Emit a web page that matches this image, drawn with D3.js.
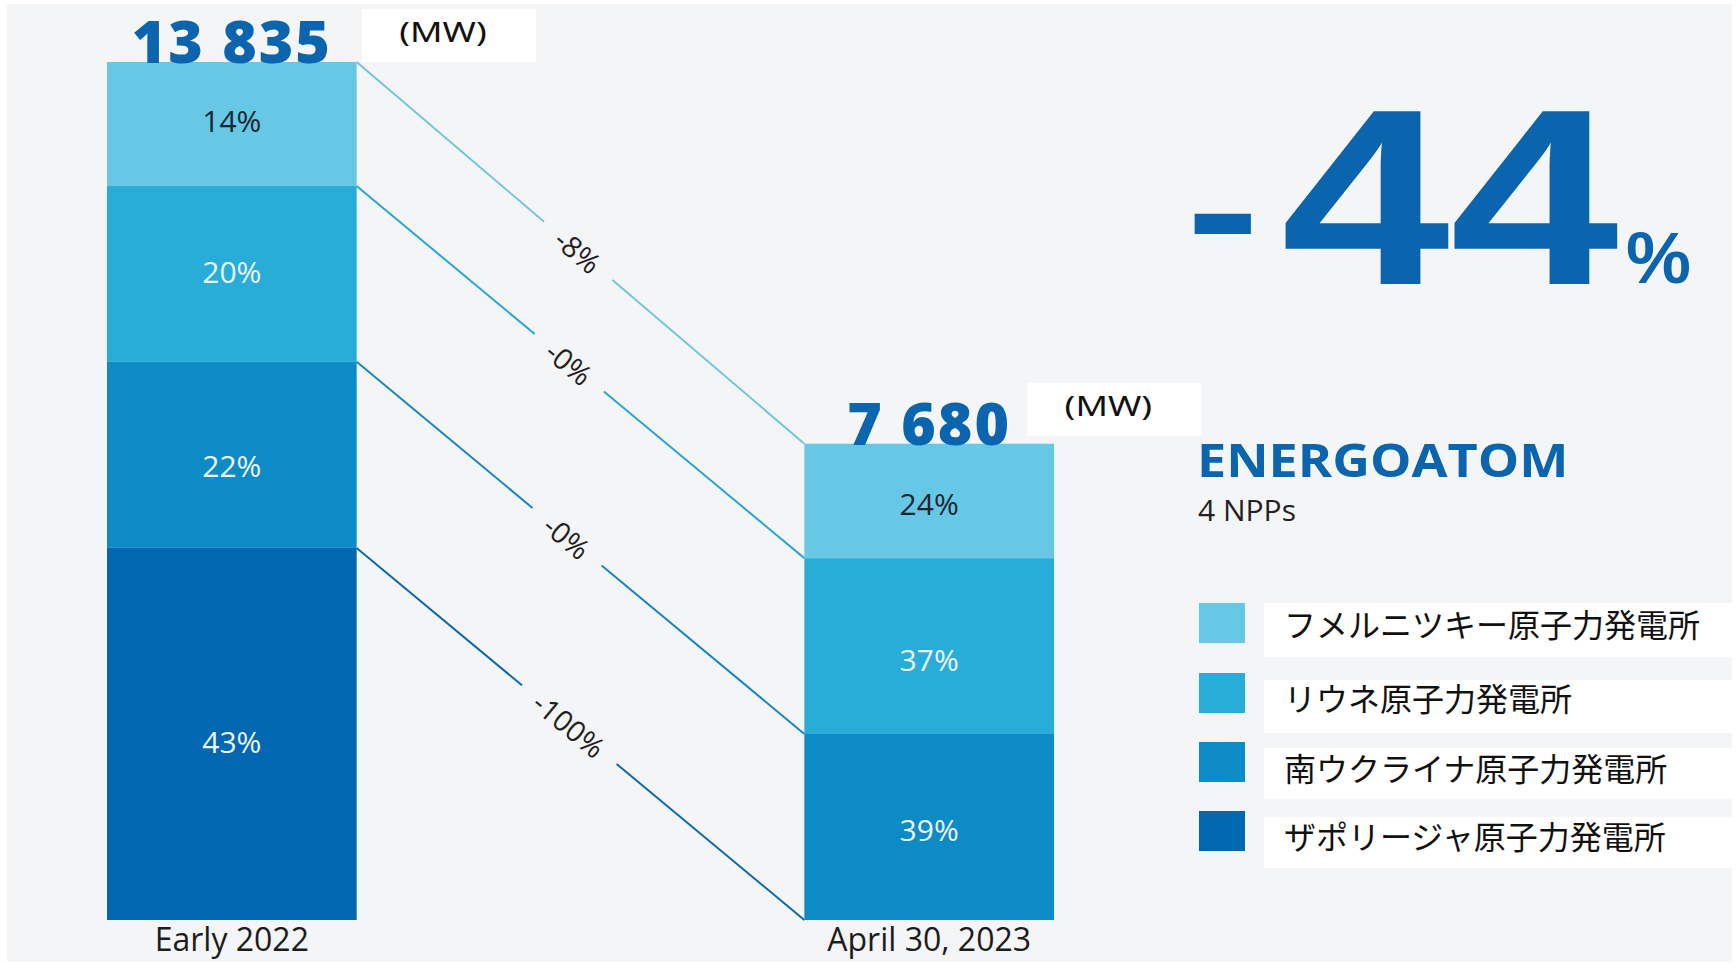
<!DOCTYPE html>
<html>
<head>
<meta charset="utf-8">
<script src="https://cdn.jsdelivr.net/npm/d3@7"></script>
<style>
  html, body { margin: 0; padding: 0; background: #ffffff; }
  svg { display: block; }
</style>
</head>
<body>
<svg id="chart" width="1736" height="964"></svg>
<script>
// Installed capacity of Energoatom's four nuclear power plants, MW
const periods = ["Early 2022", "April 30, 2023"];
const plants = [
  "フメルニツキー原子力発電所",
  "リウネ原子力発電所",
  "南ウクライナ原子力発電所",
  "ザポリージャ原子力発電所"
];
const capacityEarly2022 = [2000, 2835, 3000, 6000];
const capacityApril2023 = [1845, 2835, 3000, 0];
const unitLabel = "(MW)";
const companyName = "ENERGOATOM";
const companySub = "4 NPPs";

const colors = ["#66c8e4", "#27add8", "#0d8bc6", "#0067b0"];
const lineColors = ["#73c5de", "#2aa6d0", "#1887c0", "#0f69a8"];
const labelColors = ["#1b2633", "#eef6fb", "#eef6fb", "#eef6fb"];
const blue = "#0a64ae";

const W = 1736, H = 964;
const svg = d3.select("#chart");

// panel background
svg.append("rect")
  .attr("x", 7).attr("y", 4)
  .attr("width", 1725).attr("height", 958)
  .attr("fill", "#f4f5f7");

const rows = periods.map((p, i) => {
  const src = i === 0 ? capacityEarly2022 : capacityApril2023;
  const r = { period: p, index: i };
  plants.forEach((k, j) => r[k] = src[j]);
  r.total = d3.sum(src);
  return r;
});

// stack bottom-up: last plant sits on the baseline
const stack = d3.stack().keys(plants.slice().reverse());
const series = stack(rows);
const byPlant = {};
series.forEach(s => byPlant[s.key] = s);

const x = d3.scaleBand()
  .domain(periods)
  .range([107, 1054])
  .paddingInner(0.642)
  .paddingOuter(0);

const y = d3.scaleLinear()
  .domain([0, d3.max(rows, d => d.total)])
  .range([920, 62]);

const fmtMW = d3.formatLocale({ decimal: ".", thousands: " ", grouping: [3], currency: ["", ""] }).format(",d");
const sans = "'Open Sans', 'Noto Sans', sans-serif";

// connector lines between matching segment tops, with the change written along each
const connectorT = [0.495, 0.475, 0.47, 0.475];
const connG = svg.append("g");
plants.forEach((k, i) => {
  const s = byPlant[k];
  const x1 = x(periods[0]) + x.bandwidth();
  const y1 = y(s[0][1]);
  const x2 = x(periods[1]);
  const y2 = y(s[1][1]);
  const before = s[0][1] - s[0][0];
  const after = s[1][1] - s[1][0];
  const change = Math.round((after - before) / before * 100);
  const txt = "-" + Math.abs(change) + "%";

  const t = connectorT[i];
  const cx = x1 + (x2 - x1) * t;
  const cy = y1 + (y2 - y1) * t;
  const ang = Math.atan2(y2 - y1, x2 - x1);

  const label = connG.append("text")
    .attr("transform", `translate(${cx},${cy}) rotate(${ang * 180 / Math.PI})`)
    .attr("text-anchor", "middle")
    .attr("dominant-baseline", "central")
    .attr("font-family", sans)
    .attr("font-size", 29)
    .attr("fill", "#1f1f1f")
    .text(txt);
  const tl = label.node().getComputedTextLength();
  const half = tl / 2 + 20;
  const ux = Math.cos(ang), uy = Math.sin(ang);

  connG.insert("line", "text")
    .attr("x1", x1).attr("y1", y1)
    .attr("x2", cx - ux * half).attr("y2", cy - uy * half)
    .attr("stroke", lineColors[i]).attr("stroke-width", 2);
  connG.insert("line", "text")
    .attr("x1", cx + ux * half).attr("y1", cy + uy * half)
    .attr("x2", x2).attr("y2", y2)
    .attr("stroke", lineColors[i]).attr("stroke-width", 2);
});

// stacked bars
const labelNudge = [[-4, -2, 11, 8], [3, 13, 3, 0]];
series.forEach(s => {
  const i = plants.indexOf(s.key);
  const shown = s.filter(d => d[1] - d[0] > 0);
  const g = svg.append("g");
  g.selectAll("rect")
    .data(shown)
    .join("rect")
    .attr("x", d => x(d.data.period))
    .attr("width", x.bandwidth())
    .attr("y", d => y(d[1]))
    .attr("height", d => y(d[0]) - y(d[1]))
    .attr("fill", colors[i]);

  g.selectAll("text")
    .data(shown)
    .join("text")
    .attr("x", d => x(d.data.period) + x.bandwidth() / 2)
    .attr("y", d => (y(d[0]) + y(d[1])) / 2 + labelNudge[d.data.index][i])
    .attr("text-anchor", "middle")
    .attr("dominant-baseline", "central")
    .attr("font-family", sans)
    .attr("font-size", 30)
    .attr("fill", labelColors[i])
    .text(d => Math.round((d[1] - d[0]) / d.data.total * 100) + "%");
});

// totals and unit boxes
const unitBoxDx = [255, 223];
const unitBoxDy = [-53, -61];
rows.forEach((r, i) => {
  const cx = x(r.period) + x.bandwidth() / 2;
  const top = y(r.total);
  svg.append("text")
    .attr("x", cx).attr("y", top + 1)
    .attr("text-anchor", "middle")
    .attr("font-family", sans)
    .attr("font-weight", 800)
    .attr("font-size", 59)
    .attr("letter-spacing", 2)
    .attr("fill", blue)
    .text(fmtMW(r.total));

  const bx = x(r.period) + unitBoxDx[i];
  const by = top + unitBoxDy[i];
  svg.append("rect")
    .attr("x", bx).attr("y", by)
    .attr("width", 174).attr("height", 53)
    .attr("fill", "#ffffff");
  svg.append("text")
    .attr("transform", `translate(${bx + 81},${by + 33}) scale(1.33,1)`)
    .attr("text-anchor", "middle")
    .attr("font-family", "'Noto Sans', sans-serif")
    .attr("font-size", 27)
    .attr("fill", "#111111")
    .text(unitLabel);
});

// category labels under bars
svg.append("g").selectAll("text")
  .data(periods)
  .join("text")
  .attr("x", d => x(d) + x.bandwidth() / 2)
  .attr("y", 951)
  .attr("text-anchor", "middle")
  .attr("font-family", sans)
  .attr("font-size", 32)
  .attr("fill", "#1c1c1c")
  .text(d => d);

// overall change headline: sign, digits, percent
const totalChange = Math.round((rows[1].total - rows[0].total) / rows[0].total * 100);
const headFont = "'Liberation Sans', Arial, sans-serif";
svg.append("text")
  .attr("transform", "translate(1186,268) scale(1.31,1)")
  .attr("font-family", headFont)
  .attr("font-weight", 700)
  .attr("font-size", 169)
  .attr("fill", blue)
  .text(totalChange < 0 ? "-" : "+");
svg.append("text")
  .attr("transform", "translate(1281,284) scale(1.21,1)")
  .attr("font-family", headFont)
  .attr("font-weight", 700)
  .attr("font-size", 251)
  .attr("fill", blue)
  .text(String(Math.abs(totalChange)));
svg.append("text")
  .attr("x", 1626).attr("y", 283)
  .attr("font-family", headFont)
  .attr("font-weight", 700)
  .attr("font-size", 73)
  .attr("fill", blue)
  .text("%");

// company block
svg.append("text")
  .attr("transform", "translate(1197,477) scale(1.11,1)")
  .attr("font-family", sans)
  .attr("font-weight", 700)
  .attr("font-size", 47)
  .attr("fill", blue)
  .text(companyName);
svg.append("text")
  .attr("x", 1198).attr("y", 521)
  .attr("font-family", sans)
  .attr("font-size", 30)
  .attr("fill", "#222222")
  .text(companySub);

// legend
const legendTop = [603, 673, 742, 811];
const legendBox = [[603, 54], [680, 53], [748, 51], [817, 51]];
const legendTextY = [623, 697, 767, 835];
const legend = svg.append("g");
plants.forEach((name, i) => {
  legend.append("rect")
    .attr("x", 1264).attr("y", legendBox[i][0])
    .attr("width", W - 1264).attr("height", legendBox[i][1])
    .attr("fill", "#ffffff");
  legend.append("rect")
    .attr("x", 1199).attr("y", legendTop[i])
    .attr("width", 46).attr("height", 40)
    .attr("fill", colors[i]);
  legend.append("text")
    .attr("x", 1284).attr("y", legendTextY[i])
    .attr("dominant-baseline", "central")
    .attr("font-family", "'Noto Sans CJK JP', sans-serif")
    .attr("font-size", 32)
    .attr("fill", "#111111")
    .text(name);
});
</script>
</body>
</html>
